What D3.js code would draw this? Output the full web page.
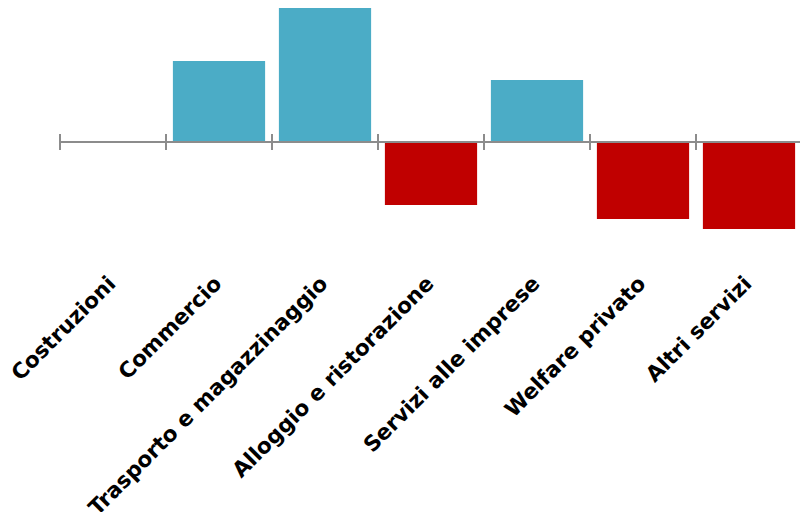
<!DOCTYPE html>
<html>
<head>
<meta charset="utf-8">
<script src="https://cdn.jsdelivr.net/npm/d3@7"></script>
<style>
	body { margin: 0; background: #fff; }
	svg { display: block; }
</style>
</head>
<body>
<svg id="chart" width="800" height="512"></svg>
<script>
(function(){

	var categories = ["Costruzioni", "Commercio", "Trasporto e magazzinaggio", "Alloggio e ristorazione",
		"Servizi alle imprese", "Welfare privato", "Altri servizi"];
	var values = [0.1, 8.1, 13.4, -6.3, 6.2, -7.7, -8.7];

	var svg = d3.select("#chart");
	var left = 60, right = 802;

	var x = d3.scaleBand()
		.domain(categories)
		.range([left, right])
		.paddingInner(0.13)
		.paddingOuter(0.065);

	// zero line sits at y=142, 10px per unit
	var y = d3.scaleLinear()
		.domain([-8.7, 13.4])
		.range([229, 8]);

	svg.append("g")
		.selectAll("rect")
		.data(values)
		.enter().append("rect")
			.attr("x", function(d, i){ return x(categories[i]); })
			.attr("y", function(d){ return y(Math.max(0, d)); })
			.attr("width", x.bandwidth())
			.attr("height", function(d){ return Math.abs(y(d) - y(0)); })
			.attr("fill", function(d){ return d >= 0 ? "#4BACC6" : "#C00000"; });

	// axis line with ticks between categories
	var step = x.step();
	var ticks = d3.range(categories.length + 1).map(function(i){ return left + i * step; });
	var axis = svg.append("g").attr("stroke", "#8c8c8c");
	axis.append("line")
		.attr("x1", left).attr("x2", right)
		.attr("y1", y(0)).attr("y2", y(0))
		.attr("stroke-width", 2);
	axis.selectAll(".tick")
		.data(ticks)
		.enter().append("line")
			.attr("x1", function(d){ return d; })
			.attr("x2", function(d){ return d; })
			.attr("y1", y(0) - 8)
			.attr("y2", y(0) + 8)
			.attr("stroke-width", 2);

	svg.append("g")
		.attr("font-family", "DejaVu Sans")
		.attr("font-weight", "bold")
		.attr("font-size", 21.5)
		.attr("text-anchor", "end")
		.selectAll("text")
		.data(categories)
		.enter().append("text")
			.attr("transform", function(d){
				return "translate(" + (x(d) + x.bandwidth() / 2 + 4) + ",285) rotate(-45)";
			})
			.text(function(d){ return d; });

})();
</script>
</body>
</html>
